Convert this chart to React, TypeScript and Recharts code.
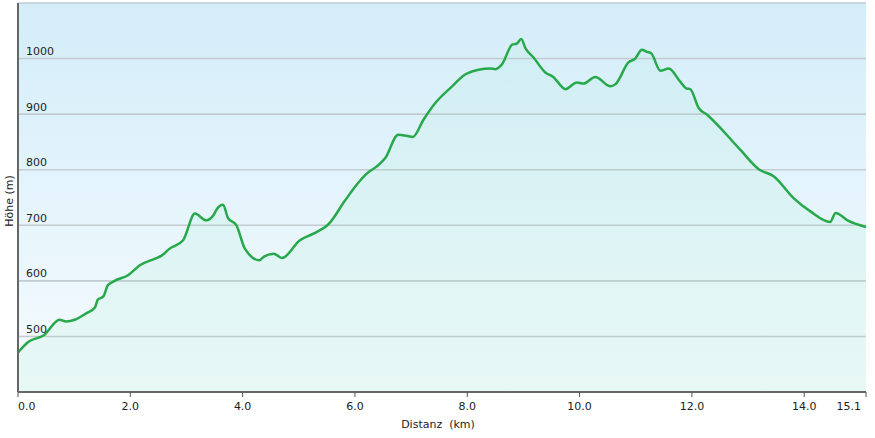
import React from 'react';
import { AreaChart, Area, XAxis, YAxis, CartesianGrid } from 'recharts';

// ── Höhenprofil-Daten (Distanz km / Höhe m) ──────────────────

const distKm = [
  0, 0.18, 0.46, 0.74, 0.86, 1.01, 1.22, 1.37, 1.42, 1.52, 1.6, 1.72, 1.96, 2.17, 2.44, 2.55,
  2.7, 2.94, 3.15, 3.35, 3.48, 3.54, 3.65, 3.74, 3.89, 4.04, 4.3, 4.37, 4.55, 4.7,
  5.02, 5.26, 5.53, 5.82, 6.03, 6.21, 6.39, 6.54, 6.77, 6.92, 7.03, 7.22, 7.43, 7.73, 7.99,
  8.41, 8.5, 8.62, 8.8, 8.88, 8.96, 9.04, 9.18, 9.39, 9.53, 9.75, 9.95, 10.07, 10.28, 10.55,
  10.64, 10.87, 10.99, 11.11, 11.2, 11.27, 11.44, 11.59, 11.78, 11.91, 11.97, 12.12, 12.27,
  12.86, 13.19, 13.46, 13.81, 14.11, 14.46, 14.56, 14.77, 15.1,
];

const elevM = [
  471, 490, 502, 530, 527, 530, 542, 552, 566, 572, 592, 600, 610, 628, 640, 645,
  658, 673, 721, 709, 718, 729, 737, 713, 700, 658, 637, 643, 649, 641,
  673, 685, 702, 744, 773, 793, 806, 821, 863, 861, 859, 890, 920, 950, 973,
  982, 981, 990, 1025, 1027, 1035, 1018, 1002, 975, 967, 945, 957, 955, 967, 950,
  954, 993, 1000, 1016, 1012, 1010, 978, 982, 960, 946, 945, 911, 899,
  836, 801, 788, 749, 725, 706, 722, 709, 697,
];

const xTicks = [0, 2, 4, 6, 8, 10, 12, 14, 15.1];
const yTicks = [500, 600, 700, 800, 900, 1000];

const data = distKm.map((km, i) => ({ km, hoehe: elevM[i] }));

const FONT = '"DejaVu Sans", Verdana, sans-serif';

// ── Achsenbeschriftungen ──────────────────────────────

// eslint-disable-next-line @typescript-eslint/no-explicit-any
const XTick = ({ x, y, payload, index }: any) => {
  const anchor = index === 0 ? 'start' : index === xTicks.length - 1 ? 'end' : 'middle';
  return (
    <text x={x} y={y + 11} textAnchor={anchor} fontSize={11} fontFamily={FONT} fill="#222">
      {Number(payload.value).toFixed(1)}
    </text>
  );
};

// eslint-disable-next-line @typescript-eslint/no-explicit-any
const YTick = ({ y, payload }: any) => (
  <text x={26} y={y - 3.5} fontSize={11} fontFamily={FONT} fill="#222">
    {payload.value}
  </text>
);

export default function App() {
  return (
    <div style={{ position: 'absolute', left: 0, top: 0, width: 875, height: 438, background: '#fff' }}>
      <AreaChart width={875} height={438} data={data} margin={{ top: 3, right: 9, left: 0, bottom: 0 }}>
        <defs>
          <linearGradient id="bgGrad" x1="0" y1="0" x2="0" y2="1">
            <stop offset="0%" stopColor="#d3edf9" />
            <stop offset="100%" stopColor="#f6fbfe" />
          </linearGradient>
          <linearGradient id="areaGrad" x1="0" y1="0" x2="0" y2="1">
            <stop offset="0%" stopColor="#6ee0a8" stopOpacity={0.06} />
            <stop offset="100%" stopColor="#7ee8b0" stopOpacity={0.12} />
          </linearGradient>
        </defs>

        <CartesianGrid
          vertical={false}
          fill="url(#bgGrad)"
          fillOpacity={1}
          stroke="#c2ccd0"
          strokeWidth={1.6}
        />

        <XAxis
          dataKey="km"
          type="number"
          domain={[0, 15.1]}
          ticks={xTicks}
          height={46}
          tick={<XTick />}
          tickSize={5}
          tickLine={{ stroke: '#555' }}
          axisLine={{ stroke: '#666', strokeWidth: 2 }}
        />
        <XAxis xAxisId="top" orientation="top" type="number" domain={[0, 15.1]} height={0}
          tick={false} tickLine={false} axisLine={{ stroke: '#c2c2c2', strokeWidth: 1.5 }} />

        <YAxis
          domain={[400, 1100]}
          ticks={yTicks}
          width={18}
          tick={<YTick />}
          tickLine={false}
          axisLine={{ stroke: '#666', strokeWidth: 2 }}
        />
        <YAxis yAxisId="right" orientation="right" domain={[400, 1100]} width={0}
          tick={false} tickLine={false} axisLine={{ stroke: '#c2c2c2', strokeWidth: 1.5 }} />

        <Area
          type="monotone"
          dataKey="hoehe"
          stroke="#26a84b"
          strokeWidth={2.5}
          fill="url(#areaGrad)"
          fillOpacity={1}
          dot={false}
          activeDot={false}
          isAnimationActive={false}
        />
      </AreaChart>

      {/* Achsentitel */}
      <div style={{
        position: 'absolute', left: 0, top: 418, width: 876, textAlign: 'center',
        fontFamily: FONT, fontSize: 11, color: '#222', whiteSpace: 'pre',
      }}>
        {'Distanz  (km)'}
      </div>
      <div style={{
        position: 'absolute', left: 9, top: 201, fontFamily: FONT, fontSize: 11, color: '#222',
        transform: 'translate(-50%, -50%) rotate(-90deg)', whiteSpace: 'nowrap',
      }}>
        Höhe (m)
      </div>
    </div>
  );
}
